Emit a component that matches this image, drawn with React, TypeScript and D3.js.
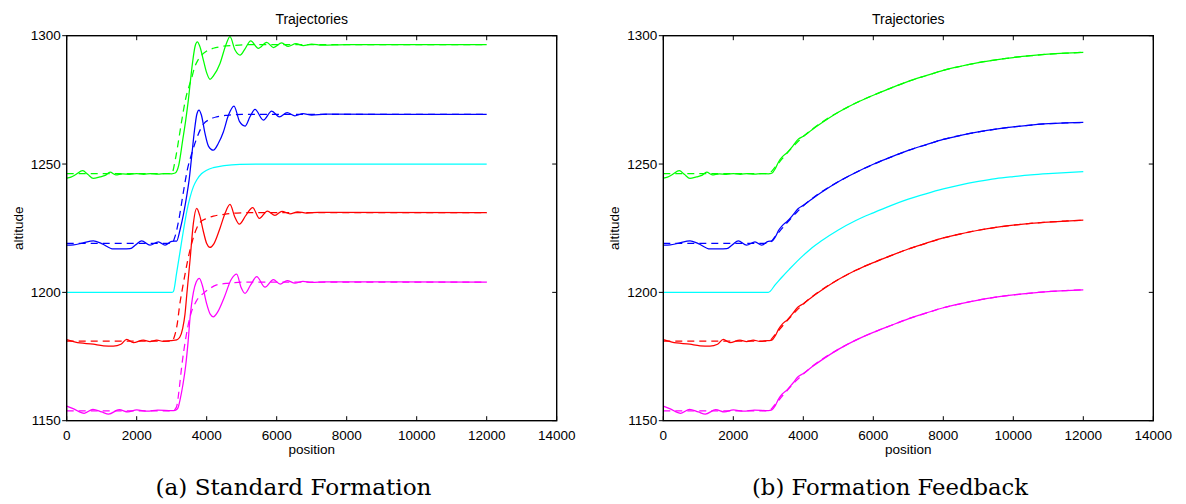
import React from "react";
import * as d3 from "d3";

type Pt = [number, number];

// ---- axes ----
const positionDomain: [number, number] = [0, 14000];
const altitudeDomain: [number, number] = [1150, 1300];
const positionTicks = [0, 2000, 4000, 6000, 8000, 10000, 12000, 14000];
const altitudeTicks = [1150, 1200, 1250, 1300];

// ---- hold phase (position < 3000), identical for both controllers ----
const greenHold: Pt[] = [
  [0, 1244.5], [120, 1244.9], [250, 1245.8], [457, 1247.4], [600, 1246], [760, 1244.4],
  [950, 1245], [1100, 1245.6], [1240, 1246.8], [1400, 1245.8], [1600, 1246.2], [1800, 1246],
  [2000, 1246.3], [2200, 1246], [2400, 1246.3], [2600, 1246.1], [2800, 1246.3], [3000, 1246.2],
];
const greenHoldRef: Pt[] = [[0, 1246.3], [3000, 1246.3]];

const blueHold: Pt[] = [
  [0, 1218.4], [200, 1218.5], [450, 1219.2], [763, 1220.1], [1000, 1219], [1333, 1216.9],
  [1600, 1216.9], [1810, 1217], [1980, 1218.6], [2143, 1220.1], [2380, 1218.4], [2620, 1219.7],
  [2810, 1218.4], [3000, 1219.9],
];
const blueHoldRef: Pt[] = [[0, 1219.1], [3000, 1219.1]];

const cyanHold: Pt[] = [[0, 1200], [3000, 1200]];

const redHold: Pt[] = [
  [0, 1181.6], [250, 1180.6], [760, 1179.8], [1050, 1179.2], [1333, 1179.1], [1550, 1179.8],
  [1714, 1181.7], [1905, 1180.4], [2190, 1181.4], [2380, 1180.8], [2571, 1181.4], [2762, 1180.9],
  [3000, 1181.2],
];
const redHoldRef: Pt[] = [[0, 1181], [3000, 1181]];

const magentaHold: Pt[] = [
  [0, 1155.7], [200, 1154.6], [500, 1152.9], [750, 1154.4], [1000, 1153.4], [1200, 1152.6],
  [1500, 1154.3], [1750, 1153.4], [2000, 1154.2], [2300, 1153.7], [2600, 1154.1], [3000, 1153.9],
];
const magentaHoldRef: Pt[] = [[0, 1153.8], [3000, 1153.8]];

// ---- (a) standard formation: climb phase ----
const standardGreen: Pt[] = [
  [3100, 1246.5], [3200, 1249.5], [3314, 1259.3], [3400, 1267], [3476, 1275], [3540, 1283],
  [3600, 1290], [3670, 1296], [3733, 1297.6], [3800, 1296], [3905, 1290.5], [4000, 1285.5],
  [4095, 1283], [4200, 1284.5], [4380, 1289.2], [4550, 1296.5], [4666, 1299.6], [4810, 1294.4],
  [4952, 1292.4], [5100, 1295], [5257, 1298], [5476, 1295.1], [5714, 1297.4], [5905, 1295.4],
  [6143, 1297.2], [6330, 1295.8], [6550, 1296.9], [6760, 1296.1], [7000, 1296.7], [7300, 1296.3],
  [8000, 1296.5], [12000, 1296.5],
];
const standardGreenRef: Pt[] = [
  [3100, 1251.5], [3200, 1259.5], [3300, 1268], [3400, 1275.5], [3500, 1280.5], [3571, 1283.5],
  [3650, 1287.5], [3750, 1290.5], [3850, 1292.3], [4000, 1294], [4190, 1295.1], [4380, 1295.7],
  [4760, 1296.2], [5200, 1296.5], [12000, 1296.5],
];

const standardBlue: Pt[] = [
  [3143, 1220], [3237, 1224.3], [3330, 1230], [3428, 1237.5], [3500, 1244], [3571, 1253],
  [3650, 1263], [3720, 1269.5], [3780, 1271], [3850, 1269], [3950, 1262], [4050, 1257],
  [4190, 1255.4], [4330, 1258], [4476, 1262.5], [4620, 1269], [4780, 1272.6], [4940, 1266.5],
  [5095, 1264.8], [5240, 1268.5], [5380, 1271.3], [5619, 1267.1], [5857, 1270.6], [6076, 1268.4],
  [6300, 1270], [6520, 1268.8], [6750, 1269.6], [7000, 1269.1], [7400, 1269.4], [12000, 1269.3],
];
const standardBlueRef: Pt[] = [
  [3100, 1222], [3200, 1228], [3333, 1239], [3450, 1248], [3571, 1254], [3700, 1259.5],
  [3905, 1265.5], [4100, 1267.5], [4286, 1268.4], [4600, 1269], [5000, 1269.3], [12000, 1269.3],
];

const standardCyan: Pt[] = [
  [3047, 1200.3], [3140, 1207.5], [3240, 1216], [3340, 1224.5], [3430, 1231.5], [3524, 1237],
  [3620, 1241.2], [3714, 1243.8], [3850, 1246.2], [4000, 1247.6], [4190, 1248.6], [4500, 1249.4],
  [4950, 1249.9], [5500, 1250], [12000, 1250],
];

const standardRed: Pt[] = [
  [3143, 1181.5], [3230, 1182.5], [3314, 1186], [3380, 1191.5], [3430, 1199], [3524, 1212.6],
  [3619, 1226.9], [3714, 1232.7], [3800, 1230], [3900, 1224], [4000, 1219], [4094, 1217.5],
  [4200, 1218.8], [4380, 1225], [4530, 1231], [4666, 1234.3], [4800, 1229.5], [4933, 1226.6],
  [5120, 1230], [5314, 1233], [5505, 1228.8], [5733, 1231.7], [5950, 1230], [6150, 1231.6],
  [6380, 1230.6], [6600, 1231.4], [6850, 1230.9], [7200, 1231.2], [12000, 1231.1],
];
const standardRedRef: Pt[] = [
  [3070, 1182.5], [3150, 1187], [3238, 1196], [3300, 1201], [3380, 1207], [3450, 1212],
  [3600, 1220.5], [3810, 1227.3], [4000, 1228.8], [4190, 1229.7], [4500, 1230.4], [4857, 1230.9],
  [5300, 1231.1], [12000, 1231.1],
];

const standardMagenta: Pt[] = [
  [3100, 1154], [3180, 1155], [3237, 1158], [3320, 1164], [3400, 1171.5], [3470, 1181],
  [3524, 1190], [3620, 1200], [3700, 1204], [3790, 1205.5], [3880, 1202.5], [4000, 1195.5],
  [4100, 1191.5], [4190, 1190.5], [4320, 1192.5], [4500, 1198], [4700, 1205], [4857, 1207.1],
  [4980, 1202], [5095, 1199.6], [5260, 1203], [5428, 1206.1], [5667, 1202], [5904, 1205],
  [6100, 1203.2], [6300, 1204.6], [6520, 1203.6], [6750, 1204.3], [7000, 1203.9], [7400, 1204.1],
  [12000, 1204],
];
const standardMagentaRef: Pt[] = [
  [3100, 1154.5], [3150, 1156], [3220, 1163], [3285, 1171], [3400, 1182], [3524, 1190.5],
  [3700, 1196.5], [3905, 1199.6], [4100, 1201.6], [4286, 1202.9], [4550, 1203.5], [4800, 1203.8],
  [5200, 1204], [12000, 1204],
];

// ---- (b) formation feedback: climb phase ----
// shared tail (position >= 5000) where measured and reference coincide
const feedbackGreenTail: Pt[] = [
  [5000, 1270.2], [5500, 1273.8], [6000, 1276.8], [6500, 1279.6], [7000, 1282.2], [7500, 1284.4],
  [8000, 1286.5], [8500, 1288.1], [9000, 1289.5], [9500, 1290.6], [10000, 1291.5], [10500, 1292.2],
  [11000, 1292.8], [11500, 1293.2], [12000, 1293.5],
];
const feedbackGreen: Pt[] = [
  [3100, 1246.4], [3200, 1248.2], [3300, 1251], [3400, 1252.8], [3550, 1254.6], [3700, 1257],
  [3850, 1259.6], [4000, 1260.8], [4250, 1263.4], [4500, 1265.8],
];
const feedbackGreenRef: Pt[] = [
  [3200, 1248.9], [3400, 1252.1], [3600, 1255.2], [3800, 1258.1], [4000, 1260.7], [4250, 1263.5],
  [4500, 1266],
];

const feedbackBlueTail: Pt[] = [
  [5000, 1243.1], [5500, 1246.7], [6000, 1249.9], [6500, 1252.7], [7000, 1255.3], [7500, 1257.5],
  [8000, 1259.6], [8500, 1261.2], [9000, 1262.5], [9500, 1263.6], [10000, 1264.5], [10500, 1265.2],
  [11000, 1265.7], [11500, 1266], [12000, 1266.2],
];
const feedbackBlue: Pt[] = [
  [3100, 1220], [3200, 1221.6], [3300, 1224.3], [3400, 1226], [3550, 1227.8], [3700, 1230.1],
  [3850, 1232.6], [4000, 1233.9], [4250, 1236.4], [4500, 1238.8],
];
const feedbackBlueRef: Pt[] = [
  [3200, 1221.8], [3400, 1225], [3600, 1228.1], [3800, 1231], [4000, 1233.7], [4250, 1236.5],
  [4500, 1239],
];

const feedbackCyan: Pt[] = [
  [3200, 1203], [3400, 1206.1], [3600, 1209], [3800, 1211.8], [4000, 1214.4], [4250, 1217.4],
  [4500, 1219.9], [5000, 1224.3], [5500, 1228], [6000, 1231], [6500, 1233.8], [7000, 1236.3],
  [7500, 1238.4], [8000, 1240.3], [8500, 1241.9], [9000, 1243.2], [9500, 1244.3], [10000, 1245.1],
  [10500, 1245.8], [11000, 1246.3], [11500, 1246.7], [12000, 1247],
];

const feedbackRedTail: Pt[] = [
  [5000, 1205], [5500, 1208.6], [6000, 1211.6], [6500, 1214.3], [7000, 1216.9], [7500, 1219.1],
  [8000, 1221.2], [8500, 1222.8], [9000, 1224.2], [9500, 1225.3], [10000, 1226.2], [10500, 1226.9],
  [11000, 1227.4], [11500, 1227.8], [12000, 1228.1],
];
const feedbackRed: Pt[] = [
  [3100, 1181.4], [3200, 1183.1], [3300, 1185.8], [3400, 1187.6], [3550, 1189.4], [3700, 1191.8],
  [3850, 1194.3], [4000, 1195.6], [4250, 1198.2], [4500, 1200.6],
];
const feedbackRedRef: Pt[] = [
  [3200, 1183.6], [3400, 1186.8], [3600, 1189.9], [3800, 1192.8], [4000, 1195.4], [4250, 1198.3],
  [4500, 1200.8],
];

const feedbackMagentaTail: Pt[] = [
  [5000, 1177.8], [5500, 1181.4], [6000, 1184.4], [6500, 1187.1], [7000, 1189.7], [7500, 1191.9],
  [8000, 1194], [8500, 1195.6], [9000, 1197], [9500, 1198.1], [10000, 1199], [10500, 1199.7],
  [11000, 1200.3], [11500, 1200.7], [12000, 1201],
];
const feedbackMagenta: Pt[] = [
  [3100, 1154.2], [3200, 1155.9], [3300, 1158.6], [3400, 1160.4], [3550, 1162.2], [3700, 1164.6],
  [3850, 1167.1], [4000, 1168.4], [4250, 1171], [4500, 1173.4],
];
const feedbackMagentaRef: Pt[] = [
  [3200, 1156.4], [3400, 1159.6], [3600, 1162.7], [3800, 1165.6], [4000, 1168.2], [4250, 1171.1],
  [4500, 1173.6],
];

const GREEN = "#00ff00";
const BLUE = "#0000ff";
const CYAN = "#00ffff";
const RED = "#ff0000";
const MAGENTA = "#ff00ff";

type Track = { color: string; actual: Pt[]; reference?: Pt[] };

const standardTracks: Track[] = [
  { color: GREEN, actual: [...greenHold, ...standardGreen], reference: [...greenHoldRef, ...standardGreenRef] },
  { color: BLUE, actual: [...blueHold, ...standardBlue], reference: [...blueHoldRef, ...standardBlueRef] },
  { color: CYAN, actual: [...cyanHold, ...standardCyan] },
  { color: RED, actual: [...redHold, ...standardRed], reference: [...redHoldRef, ...standardRedRef] },
  { color: MAGENTA, actual: [...magentaHold, ...standardMagenta], reference: [...magentaHoldRef, ...standardMagentaRef] },
];

const feedbackTracks: Track[] = [
  {
    color: GREEN,
    actual: [...greenHold, ...feedbackGreen, ...feedbackGreenTail],
    reference: [...greenHoldRef, ...feedbackGreenRef, ...feedbackGreenTail],
  },
  {
    color: BLUE,
    actual: [...blueHold, ...feedbackBlue, ...feedbackBlueTail],
    reference: [...blueHoldRef, ...feedbackBlueRef, ...feedbackBlueTail],
  },
  { color: CYAN, actual: [...cyanHold, ...feedbackCyan] },
  {
    color: RED,
    actual: [...redHold, ...feedbackRed, ...feedbackRedTail],
    reference: [...redHoldRef, ...feedbackRedRef, ...feedbackRedTail],
  },
  {
    color: MAGENTA,
    actual: [...magentaHold, ...feedbackMagenta, ...feedbackMagentaTail],
    reference: [...magentaHoldRef, ...feedbackMagentaRef, ...feedbackMagentaTail],
  },
];

// ---- layout ----
const W = 1186;
const H = 504;
const plotTop = 35.7;
const plotBottom = 420.7;
const plotWidth = 490;
const sans = "'Liberation Sans', Arial, Helvetica, sans-serif";
const serif = "'DejaVu Serif', serif";

type PanelProps = {
  left: number;
  tracks: Track[];
  caption: string;
  captionX: number;
};

function Panel({ left, tracks, caption, captionX }: PanelProps) {
  const x = d3.scaleLinear().domain(positionDomain).range([left, left + plotWidth]);
  const y = d3.scaleLinear().domain(altitudeDomain).range([plotBottom, plotTop]);
  const line = d3
    .line<Pt>()
    .x((d) => x(d[0]))
    .y((d) => y(d[1]))
    .curve(d3.curveMonotoneX);
  const right = left + plotWidth;
  const cx = (left + right) / 2;
  const tick = 4.5;

  return (
    <g>
      <text x={cx} y={24} textAnchor="middle" fontFamily={sans} fontSize={14} fill="#000">
        Trajectories
      </text>

      {tracks.map((t, i) => (
        <g key={i} fill="none" stroke={t.color} strokeWidth={1.25}>
          <path d={line(t.actual) ?? ""} />
          {t.reference && <path d={line(t.reference) ?? ""} strokeDasharray="7,5" />}
        </g>
      ))}

      <rect
        x={left}
        y={plotTop}
        width={plotWidth}
        height={plotBottom - plotTop}
        fill="none"
        stroke="#000"
        strokeWidth={1.4}
      />

      {positionTicks.map((v) => (
        <g key={`x${v}`}>
          <line x1={x(v)} x2={x(v)} y1={plotBottom} y2={plotBottom - tick} stroke="#000" strokeWidth={1} />
          <line x1={x(v)} x2={x(v)} y1={plotTop} y2={plotTop + tick} stroke="#000" strokeWidth={1} />
          <text x={x(v)} y={439.5} textAnchor="middle" fontFamily={sans} fontSize={13.5} fill="#000">
            {v}
          </text>
        </g>
      ))}

      {altitudeTicks.map((v) => (
        <g key={`y${v}`}>
          <line x1={left - tick} x2={left} y1={y(v)} y2={y(v)} stroke="#000" strokeWidth={1} />
          <line x1={right} x2={right - tick} y1={y(v)} y2={y(v)} stroke="#000" strokeWidth={1} />
          <text x={left - 6} y={y(v)} dy="0.35em" textAnchor="end" fontFamily={sans} fontSize={13.5} fill="#000">
            {v}
          </text>
        </g>
      ))}

      <text x={cx} y={454} textAnchor="middle" fontFamily={sans} fontSize={13.5} fill="#000">
        position
      </text>
      <text
        transform={`translate(${left - 44},${(plotTop + plotBottom) / 2}) rotate(-90)`}
        textAnchor="middle"
        fontFamily={sans}
        fontSize={13.5}
        fill="#000"
      >
        altitude
      </text>

      <text
        x={captionX}
        y={495}
        textAnchor="middle"
        fontFamily={serif}
        fontSize={22.5}
        fill="#000"
        textLength={276}
        lengthAdjust="spacingAndGlyphs"
      >
        {caption}
      </text>
    </g>
  );
}

export default function App() {
  return (
    <div style={{ position: "absolute", left: 0, top: 0, width: W, height: H, background: "#fff" }}>
      <svg width={W} height={H} viewBox={`0 0 ${W} ${H}`} style={{ display: "block" }}>
        <rect width={W} height={H} fill="#fff" />
        <Panel left={66.7} tracks={standardTracks} caption="(a) Standard Formation" captionX={293.5} />
        <Panel left={663.3} tracks={feedbackTracks} caption="(b) Formation Feedback" captionX={890} />
      </svg>
    </div>
  );
}
